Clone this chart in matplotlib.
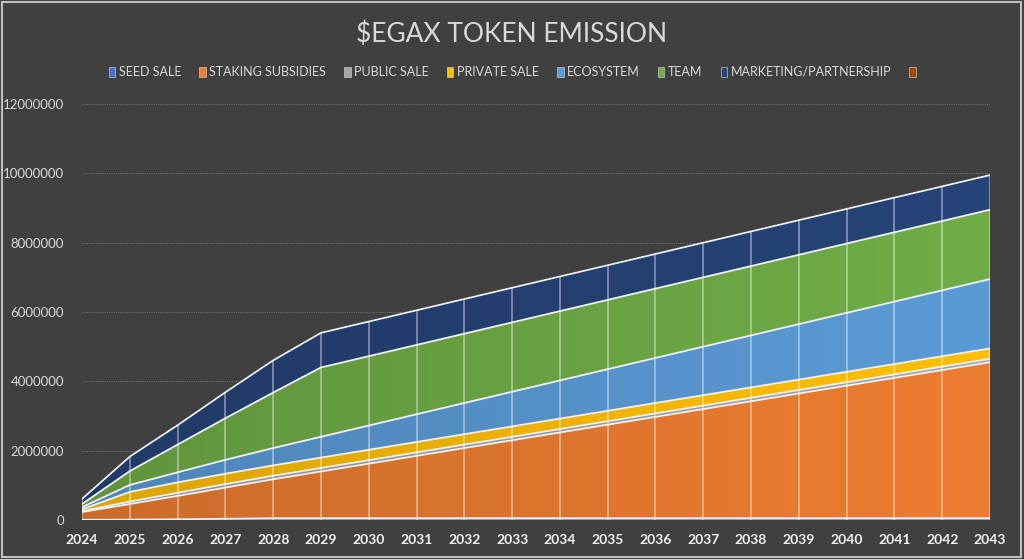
import numpy as np
import matplotlib
matplotlib.use('Agg')
import matplotlib.pyplot as plt
from matplotlib.patches import Patch, Rectangle
from matplotlib.ticker import FuncFormatter

plt.rcParams['font.family'] = ['Lato', 'DejaVu Sans']

years = [2024, 2025, 2026, 2027, 2028, 2029, 2030, 2031, 2032, 2033,
         2034, 2035, 2036, 2037, 2038, 2039, 2040, 2041, 2042, 2043]

seed_sale = [5000, 10000, 20000, 35000, 50000, 50000, 50000, 50000, 50000, 50000,
             50000, 50000, 50000, 50000, 50000, 50000, 50000, 50000, 50000, 50000]
staking = [225000, 450000, 675000, 900000, 1125000, 1350000, 1575000, 1800000, 2025000, 2250000,
           2475000, 2700000, 2925000, 3150000, 3375000, 3600000, 3825000, 4050000, 4275000, 4500000]
public_sale = [30000, 70000, 90000, 100000, 100000, 100000, 100000, 100000, 100000, 100000,
               100000, 100000, 100000, 100000, 100000, 100000, 100000, 100000, 100000, 100000]
private_sale = [50000, 280000, 300000, 300000, 300000, 300000, 300000, 300000, 300000, 300000,
                300000, 300000, 300000, 300000, 300000, 300000, 300000, 300000, 300000, 300000]
ecosystem = [60000, 200000, 290000, 400000, 500000, 600000, 700000, 800000, 900000, 1000000,
             1100000, 1200000, 1300000, 1400000, 1500000, 1600000, 1700000, 1800000, 1900000, 2000000]
team = [90000, 400000, 800000, 1200000, 1600000, 2000000, 2000000, 2000000, 2000000, 2000000,
        2000000, 2000000, 2000000, 2000000, 2000000, 2000000, 2000000, 2000000, 2000000, 2000000]
marketing = [150000, 420000, 560000, 750000, 930000, 1000000, 1000000, 1000000, 1000000, 1000000,
             1000000, 1000000, 1000000, 1000000, 1000000, 1000000, 1000000, 1000000, 1000000, 1000000]
unnamed = [0, 0, 0, 0, 0, 0, 0, 0, 0, 0, 0, 0, 0, 0, 0, 0, 0, 0, 0, 0]

labels = ['SEED SALE', 'STAKING SUBSIDIES', 'PUBLIC SALE', 'PRIVATE SALE',
          'ECOSYSTEM', 'TEAM', 'MARKETING/PARTNERSHIP', '']
colors = ['#4472C4', '#ED7D31', '#A5A5A5', '#FFC000', '#5B9BD5', '#70AD47', '#264478', '#9E480E']
series = [seed_sale, staking, public_sale, private_sale, ecosystem, team, marketing, unnamed]

bg = '#404040'
fig = plt.figure(figsize=(10.24, 5.59), dpi=100, facecolor=bg)
ax = fig.add_axes([82/1024, 1-520/559, (990-82)/1024, (520-104)/559])
ax.set_facecolor(bg)
ax.set_xlim(years[0], years[-1])
ax.set_ylim(0, 12000000)

polys = ax.stackplot(years, *series, colors=colors, zorder=1)
tops = np.cumsum(np.array(series, dtype=float), axis=0)

# horizontal gradient, darker on the left
t = np.linspace(0, 1, 256)
for poly, c in zip(polys, colors):
    rgb = np.array(matplotlib.colors.to_rgb(c))
    fac = 0.86 + 0.14 * t
    grad = (rgb[None, :] * fac[:, None])[None, :, :]
    poly.set_facecolor('none')
    im = ax.imshow(grad, extent=(years[0], years[-1], 0, 12000000), aspect='auto',
                   interpolation='bilinear', zorder=1)
    im.set_clip_path(poly.get_paths()[0], ax.transData)

ax.plot(years, [0] * len(years), color='#6F8FD0', lw=2.0, zorder=2)
for top in tops[:-1]:
    ax.plot(years, top, color='#EEF0F4', lw=1.3, zorder=3)

ax.vlines(years, 0, tops[-1], colors='white', alpha=0.45, lw=1.2, zorder=4)

ax.yaxis.grid(True, color='#707070', ls=(0, (1, 1)), lw=0.8)
ax.set_axisbelow(True)
for s in ax.spines.values():
    s.set_visible(False)

ax.set_yticks(range(0, 12000001, 2000000))
ax.yaxis.set_major_formatter(FuncFormatter(lambda v, p: f'{int(v)}'))
ax.set_xticks(years)
ax.tick_params(axis='both', length=0)
ax.tick_params(axis='y', pad=13, labelsize=9.5, labelcolor='#D9D9D9')
ax.tick_params(axis='x', pad=10, labelsize=10, labelcolor='#F2F2F2')
for lab in ax.get_xticklabels():
    lab.set_fontweight('bold')

fig.text(0.5, 1-34/559, r'\$EGAX TOKEN EMISSION', ha='center', va='center',
         fontsize=19, color='#D9D9D9')

handles = [Patch(facecolor=c, edgecolor='#DDDDDD', lw=0.4) for c in colors]
ax.legend(handles, labels, ncol=8, loc='center', bbox_to_anchor=(0.502, 1-72/559),
          bbox_transform=fig.transFigure, frameon=False, fontsize=9,
          labelcolor='#D9D9D9', handlelength=0.5, handleheight=0.9,
          handletextpad=0.3, columnspacing=1.45)

fig.patches.append(Rectangle((0.002, 0.003), 0.995, 0.994, transform=fig.transFigure,
                             fill=False, ec='#BFBFBF', lw=1.5))

fig.savefig('out.png', dpi=100, facecolor=bg)
